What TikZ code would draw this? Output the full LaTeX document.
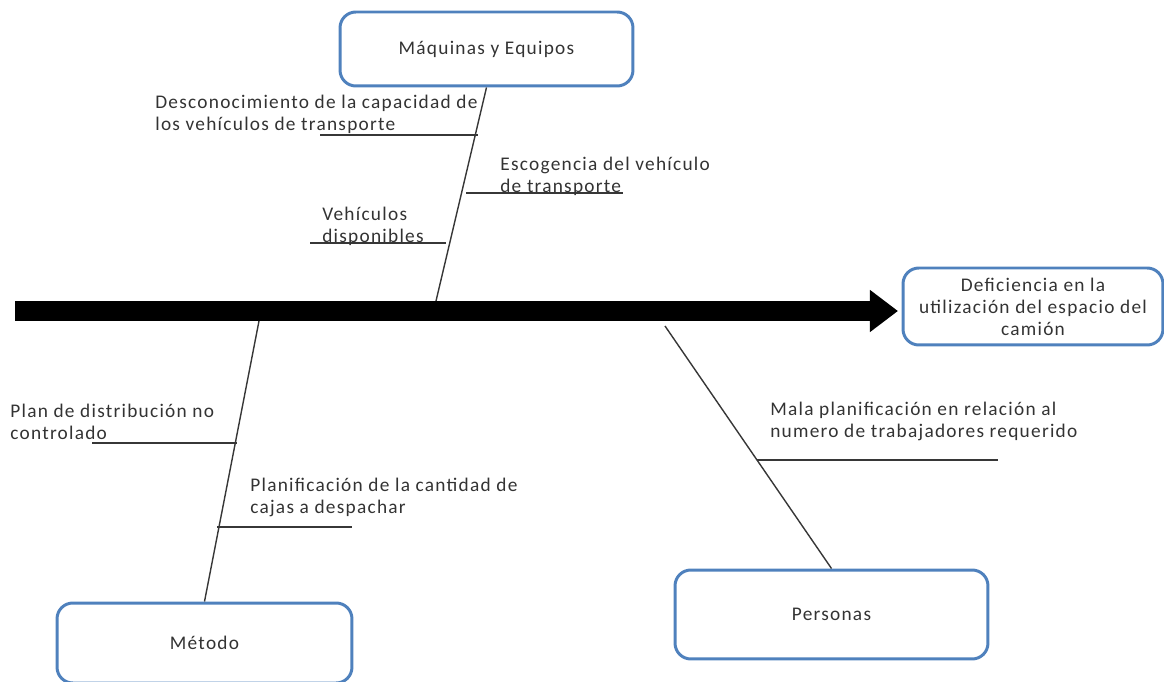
\documentclass[tikz,border=0pt]{standalone}
\usepackage{fontspec}
\setmainfont{Carlito}[LetterSpace=6.5]
\usetikzlibrary{arrows.meta,positioning}
\definecolor{bBlue}{RGB}{79,129,189}
\definecolor{bInk}{RGB}{55,55,55}

\begin{document}
\begin{tikzpicture}[
    x=0.02cm, y=-0.02cm,
    cat/.style ={rectangle, rounded corners=9pt, draw=bBlue, line width=1.7pt,
                 align=center, font=\fontsize{11}{12.5}\selectfont, text=black!80},
    cause/.style={anchor=west, align=left, inner sep=0pt,
                 font=\fontsize{11}{12.5}\selectfont, text=black!80},
    bone/.style ={draw=bInk, line width=0.8pt},
    spine/.style={line width=11.4pt, -{Triangle[width=23pt,length=16pt]}}
]
\useasboundingbox (0,0) rectangle (1164,682);

\node[cat, minimum width=5.86cm, minimum height=1.48cm] (maq) at (486.5,49) {Máquinas y Equipos};
\node[cat, minimum width=5.2cm, minimum height=1.54cm]  (eff) at (1033,306.5) {Deficiencia en la\\utilización del espacio del\\camión};
\node[cat, minimum width=5.9cm, minimum height=1.6cm]   (met) at (204.5,643) {Método};
\node[cat, minimum width=6.26cm, minimum height=1.78cm] (per) at (831.5,614.5) {Personas};

\coordinate (tail) at (15,311);
\coordinate (head) at (898,311);
\draw[spine] (tail) -- (head);

\coordinate (m0) at (436,301);
\coordinate (e0) at (259,321);
\coordinate (p0) at (665,326);
\draw[bone] (maq.south) -- (m0);
\draw[bone] (e0) -- (met.north);
\draw[bone] (p0) -- (per.north);

\coordinate (a1) at (320,135); \coordinate (b1) at (478,135);
\coordinate (a2) at (466,193); \coordinate (b2) at (623,193);
\coordinate (a3) at (310,243); \coordinate (b3) at (446,243);
\coordinate (a4) at (92,443);  \coordinate (b4) at (237,443);
\coordinate (a5) at (217,527); \coordinate (b5) at (352,527);
\coordinate (a6) at (757,460); \coordinate (b6) at (998,460);
\draw[bone] (a1) -- (b1);
\draw[bone] (a2) -- (b2);
\draw[bone] (a3) -- (b3);
\draw[bone] (a4) -- (b4);
\draw[bone] (a5) -- (b5);
\draw[bone] (a6) -- (b6);

\node[cause] (c1) at (155,114) {Desconocimiento de la capacidad de\\los vehículos de transporte};
\node[cause] (c2) at (500,176) {Escogencia del vehículo\\de transporte};
\node[cause] (c3) at (322,226) {Vehículos\\disponibles};
\node[cause] (c4) at (10,422)  {Plan de distribución no\\controlado};
\node[cause] (c5) at (250,497) {Planificación de la cantidad de\\cajas a despachar};
\node[cause] (c6) at (770,421.5) {Mala planificación en relación al\\numero de trabajadores requerido};
\end{tikzpicture}
\end{document}
